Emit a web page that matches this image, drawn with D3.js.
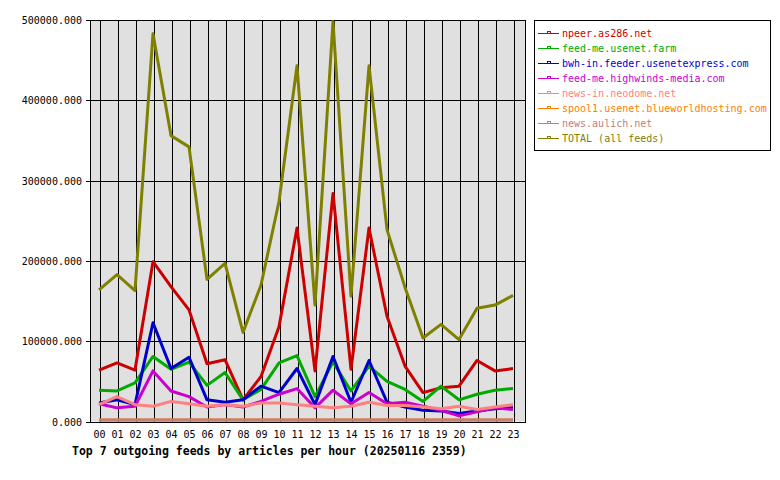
<!DOCTYPE html>
<html>
<head>
<meta charset="utf-8">
<script src="https://cdn.jsdelivr.net/npm/d3@7"></script>
<style>
  body { margin: 0; background: #fff; }
  text { font-family: "DejaVu Sans Mono", "Liberation Mono", monospace; }
</style>
</head>
<body>
<div id="chart"></div>
<script>
var hours = ["00","01","02","03","04","05","06","07","08","09","10","11",
             "12","13","14","15","16","17","18","19","20","21","22","23"];

var feedNames = ["npeer.as286.net", "feed-me.usenet.farm", "bwh-in.feeder.usenetexpress.com",
                 "feed-me.highwinds-media.com", "news-in.neodome.net",
                 "spool1.usenet.blueworldhosting.com", "news.aulich.net", "TOTAL (all feeds)"];
var feedColors = ["#cc0000", "#00aa00", "#0000cc", "#cc00cc", "#ff8080", "#ff8000", "#c08080", "#808000"];

var npeer    = [64000, 73000, 64000, 199000, 168000, 139000, 72000, 77000, 27000, 56000, 118000, 241000,
                63000, 284000, 65000, 241000, 131000, 69000, 36000, 42000, 44000, 76000, 63000, 66000];
var usenetFarm = [39000, 38000, 48000, 81000, 65000, 74000, 45000, 61000, 27000, 40000, 73000, 82000,
                31000, 74000, 38000, 69000, 50000, 40000, 25000, 44000, 27000, 34000, 39000, 41000];
var bwhIn    = [23000, 27000, 21000, 123000, 66000, 80000, 27000, 24000, 27000, 44000, 36000, 66000,
                21000, 81000, 24000, 76000, 24000, 18000, 14000, 13000, 10000, 13000, 16000, 17000];
var highwinds = [22000, 17000, 19000, 63000, 38000, 31000, 18000, 21000, 18000, 25000, 34000, 41000,
                17000, 39000, 22000, 36000, 22000, 24000, 19000, 14000, 7000, 12000, 17000, 15000];
var neodome  = [21000, 31000, 21000, 19000, 25000, 22000, 19000, 21000, 19000, 23000, 23000, 21000,
                19000, 17000, 19000, 24000, 20000, 20000, 18000, 16000, 19000, 15000, 18000, 21000];
var spool1   = [2000, 2000, 2000, 2000, 2000, 2000, 2000, 2000, 2000, 2000, 2000, 2000,
                2000, 2000, 2000, 2000, 2000, 2000, 2000, 2000, 2000, 2000, 2000, 2000];
var aulich   = [2000, 2000, 2000, 2000, 2000, 2000, 2000, 2000, 2000, 2000, 2000, 2000,
                2000, 2000, 2000, 2000, 2000, 2000, 2000, 2000, 2000, 2000, 2000, 2000];
var total    = [164000, 183000, 163000, 483000, 356000, 342000, 177000, 197000, 111000, 170000, 274000, 443000,
                145000, 498000, 156000, 443000, 239000, 167000, 104000, 121000, 102000, 141000, 145000, 157000];

var yTicks = [0, 100000, 200000, 300000, 400000, 500000];
var title = "Top 7 outgoing feeds by articles per hour (20250116 2359)";

var series = [npeer, usenetFarm, bwhIn, highwinds, neodome, spool1, aulich, total];

var width = 780, height = 480;
var plot = {left: 90, right: 525, top: 20, bottom: 421.5};

var svg = d3.select("#chart").append("svg")
    .attr("width", width)
    .attr("height", height);

var x = d3.scaleLinear().domain([0, 23]).range([99, 513]);
var y = d3.scaleLinear().domain([0, 500000]).range([plot.bottom, plot.top]);

// plot background
svg.append("rect")
    .attr("x", plot.left).attr("y", plot.top)
    .attr("width", plot.right - plot.left)
    .attr("height", plot.bottom - plot.top)
    .attr("fill", "#e0e0e0");

// vertical grid
svg.append("g")
    .attr("transform", "translate(0.5," + plot.top + ")")
    .call(d3.axisBottom(x).tickValues(d3.range(hours.length)).tickSize(plot.bottom - plot.top).tickFormat(""))
    .call(function(g) { g.select(".domain").remove(); })
    .selectAll("line").attr("stroke", "#000").attr("shape-rendering", "crispEdges");

// horizontal grid + y labels
svg.append("g")
    .attr("transform", "translate(" + plot.left + ",0)")
    .call(d3.axisLeft(y).tickValues(yTicks).tickFormat(d3.format(".3f"))
      .tickSizeInner(-(plot.right - plot.left)).tickSizeOuter(0).tickPadding(8))
    .call(function(g) { g.select(".domain").remove(); })
    .call(function(g) {
      g.selectAll("line").attr("stroke", "#000").attr("x1", -4).attr("shape-rendering", "crispEdges");
      g.selectAll("text").attr("font-size", "10px").attr("fill", "#000")
        .attr("font-family", "DejaVu Sans Mono").attr("dy", "0.35em");
    });

// frame
svg.append("rect")
    .attr("x", plot.left + 0.5).attr("y", plot.top + 0.5)
    .attr("width", plot.right - plot.left)
    .attr("height", plot.bottom - plot.top)
    .attr("fill", "none")
    .attr("stroke", "#000")
    .attr("shape-rendering", "crispEdges");

// x labels
svg.append("g")
    .attr("transform", "translate(0," + (plot.bottom + 6) + ")")
    .call(d3.axisBottom(x).tickValues(d3.range(hours.length)).tickSize(0)
      .tickFormat(function(i) { return hours[i]; }))
    .call(function(g) {
      g.select(".domain").remove();
      g.selectAll("text").attr("font-size", "10px").attr("fill", "#000")
        .attr("font-family", "DejaVu Sans Mono");
    });

var line = d3.line()
    .x(function(d, i) { return x(i); })
    .y(function(d) { return y(d); });

svg.selectAll("path.feed")
    .data(series)
    .enter().append("path")
    .attr("class", "feed")
    .attr("d", line)
    .attr("fill", "none")
    .attr("stroke", function(d, i) { return feedColors[i]; })
    .attr("stroke-width", 3)
    .attr("stroke-linejoin", "round");

// legend
var legend = svg.append("g");
legend.append("rect")
    .attr("x", 534.5).attr("y", 20.5)
    .attr("width", 236).attr("height", 130)
    .attr("fill", "#fff").attr("stroke", "#000");

var item = legend.selectAll("g.item")
    .data(feedNames)
    .enter().append("g")
    .attr("class", "item")
    .attr("transform", function(d, i) { return "translate(0," + (33.5 + i * 15) + ")"; });

item.append("line")
    .attr("x1", 538).attr("x2", 559)
    .attr("stroke", function(d, i) { return feedColors[i]; });
item.append("rect")
    .attr("x", 547.5).attr("y", -2)
    .attr("width", 3).attr("height", 2)
    .attr("fill", "none")
    .attr("stroke", function(d, i) { return feedColors[i]; });
item.append("text")
    .attr("x", 562).attr("dy", "0.35em")
    .attr("font-size", "10px")
    .attr("fill", function(d, i) { return feedColors[i]; })
    .text(function(d) { return d; });

svg.append("text")
    .attr("x", 72).attr("y", 455)
    .attr("font-size", "11.5px")
    .attr("font-weight", "bold")
    .attr("fill", "#000")
    .text(title);
</script>
</body>
</html>
